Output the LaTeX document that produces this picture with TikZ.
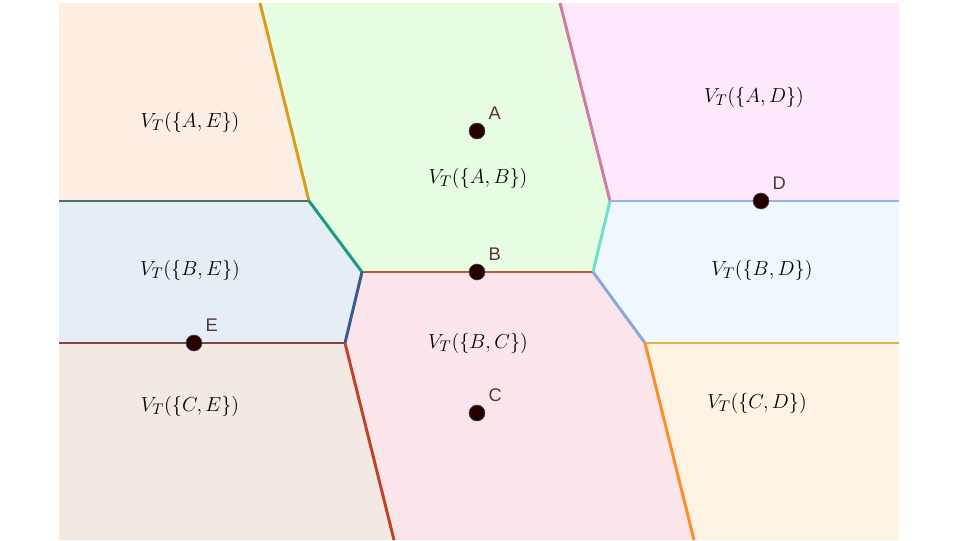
\documentclass[tikz,border=0pt]{standalone}
\usepackage{fontspec}
\newfontfamily\sitefont{Liberation Sans}
\usetikzlibrary{positioning}

\definecolor{cAE}{HTML}{FDEEE4}
\definecolor{cAB}{HTML}{E6FDE2}
\definecolor{cAD}{HTML}{FEE8FB}
\definecolor{cBE}{HTML}{E6EEF5}
\definecolor{cBD}{HTML}{EFF8FE}
\definecolor{cBC}{HTML}{FBE5EA}
\definecolor{cCE}{HTML}{F2E9E3}
\definecolor{cCD}{HTML}{FEF3E2}
\definecolor{sitetext}{HTML}{5A3434}

\begin{document}
\begin{tikzpicture}[
				x=0.025cm,y=-0.025cm,
				site/.style={circle,fill=black!85!red,draw=black!70,minimum size=0.4cm,inner sep=0pt},
				lbl/.style={font=\sitefont\fontsize{13}{15}\selectfont,text=sitetext,inner sep=1pt,label distance=4pt},
				cell/.style={font=\fontsize{15.5}{18}\selectfont},
				edge/.style={line width=2.1pt}
				]
				\useasboundingbox (0,0) rectangle (960,540);
				
				% Eckpunkte
				\coordinate (tl) at (59,3);
				\coordinate (tr) at (899,3);
				\coordinate (bl) at (59,540);
				\coordinate (br) at (899,540);
				\coordinate (p1) at (260,3);
				\coordinate (p2) at (560,3);
				\coordinate (wl1) at (59,201);
				\coordinate (q1) at (309,201);
				\coordinate (q2) at (610,201);
				\coordinate (er1) at (899,201);
				\coordinate (r1) at (362,272);
				\coordinate (r2) at (593,272);
				\coordinate (wl2) at (59,343);
				\coordinate (s1) at (345,343);
				\coordinate (s2) at (645,343);
				\coordinate (er2) at (899,343);
				\coordinate (t1) at (394,540);
				\coordinate (t2) at (694,540);
				
				% Zellen
				\fill[cAE] (tl) -- (p1) -- (q1) -- (wl1) -- cycle;
				\fill[cAB] (p1) -- (p2) -- (q2) -- (r2) -- (r1) -- (q1) -- cycle;
				\fill[cAD] (p2) -- (tr) -- (er1) -- (q2) -- cycle;
				\fill[cBE] (wl1) -- (q1) -- (r1) -- (s1) -- (wl2) -- cycle;
				\fill[cBD] (q2) -- (er1) -- (er2) -- (s2) -- (r2) -- cycle;
				\fill[cBC] (r1) -- (r2) -- (s2) -- (t2) -- (t1) -- (s1) -- cycle;
				\fill[cCE] (wl2) -- (s1) -- (t1) -- (bl) -- cycle;
				\fill[cCD] (s2) -- (er2) -- (br) -- (t2) -- cycle;
				
				% Kanten
				\draw[edge,color={rgb,255:red,214;green,158;blue,26}] (p1) -- (q1);
				\draw[edge,color={rgb,255:red,74;green,112;blue,112}] (wl1) -- (q1);
				\draw[edge,color={rgb,255:red,26;green,154;blue,128}] (q1) -- (r1);
				\draw[edge,color={rgb,255:red,184;green,90;blue,60}] (r1) -- (r2);
				\draw[edge,color={rgb,255:red,110;green,224;blue,200}] (r2) -- (q2);
				\draw[edge,color={rgb,255:red,208;green,122;blue,168}] (q2) -- (p2);
				\draw[edge,color={rgb,255:red,154;green,176;blue,240}] (q2) -- (er1);
				\draw[edge,color={rgb,255:red,138;green,168;blue,216}] (r2) -- (s2);
				\draw[edge,color={rgb,255:red,224;green,176;blue,80}] (s2) -- (er2);
				\draw[edge,color={rgb,255:red,255;green,140;blue,42}] (s2) -- (t2);
				\draw[edge,color={rgb,255:red,58;green,90;blue,144}] (r1) -- (s1);
				\draw[edge,color={rgb,255:red,122;green,74;blue,58}] (wl2) -- (s1);
				\draw[edge,color={rgb,255:red,192;green,64;blue,42}] (s1) -- (t1);
				
				% Punkte
				\node[site,label={[lbl]above right:A}] (A) at (477,131) {};
				\node[site,label={[lbl]above right:B}] (B) at (477,272) {};
				\node[site,label={[lbl]above right:C}] (C) at (477,413) {};
				\node[site,label={[lbl]above right:D}] (D) at (761,201) {};
				\node[site,label={[lbl]above right:E}] (E) at (194,343) {};
				
				% Beschriftungen
				\node[cell] (vAE) at (190,122) {$V_T(\{A,E\})$};
				\node[cell] (vAB) at (478,178) {$V_T(\{A,B\})$};
				\node[cell] (vAD) at (754,97) {$V_T(\{A,D\})$};
				\node[cell] (vBE) at (190,270) {$V_T(\{B,E\})$};
				\node[cell] (vBD) at (762,270) {$V_T(\{B,D\})$};
				\node[cell] (vBC) at (478,343) {$V_T(\{B,C\})$};
				\node[cell] (vCE) at (190,406) {$V_T(\{C,E\})$};
				\node[cell] (vCD) at (757,403) {$V_T(\{C,D\})$};
				
			\end{tikzpicture}
\end{document}
